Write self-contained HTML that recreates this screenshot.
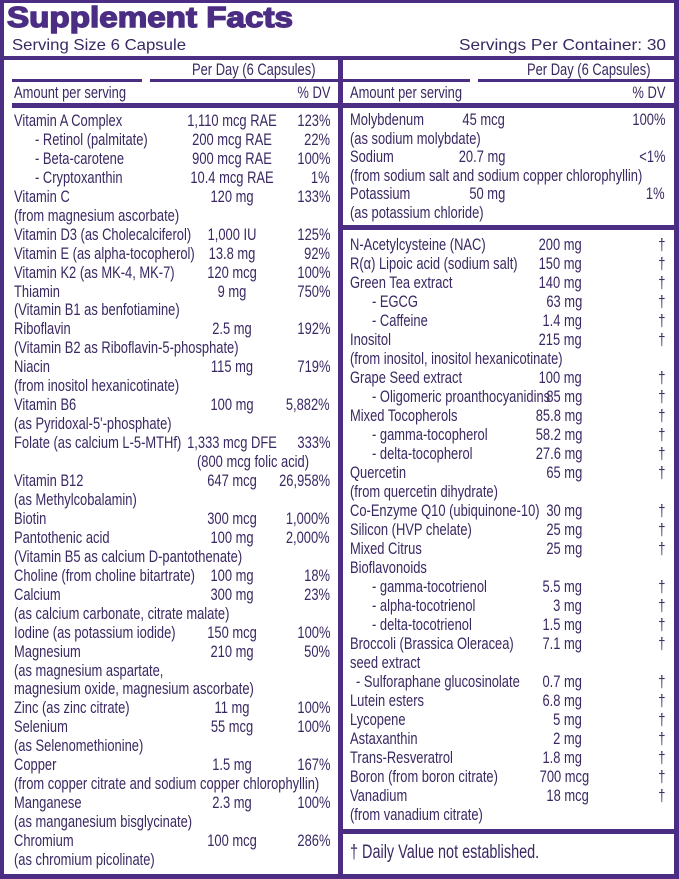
<!DOCTYPE html>
<html><head><meta charset="utf-8"><style>
*{margin:0;padding:0;box-sizing:border-box}
body{width:679px;height:879px;background:#fff;position:relative;overflow:hidden;font-family:"Liberation Sans",sans-serif;color:#3a2862}
.b{position:absolute;background:#4b2d83}
.r{position:absolute;height:20px;line-height:20px;font-size:17px;white-space:nowrap}
.r span{position:absolute;top:0;display:block}
.n{transform:scaleX(.76);transform-origin:left center}
.a{width:160px;text-align:center;transform:scaleX(.76);transform-origin:center}
.ar{text-align:right;transform:scaleX(.76);transform-origin:right center}
.d{text-align:right;transform:scaleX(.76);transform-origin:right center}
.L{left:0;width:340px}
.R{left:0;width:679px}
.L .n{left:14px}.L .a{left:152px}.L .d{right:10px}
.R .n{left:350px}.R .d{right:14px}
.s .n{left:35px!important}
.R.s .n{left:372px!important}
.u .ar{right:174px}
.w .ar{right:97px}
</style></head><body>
<div class="b" style="left:0;top:0;width:679px;height:3px"></div>
<div class="b" style="left:0;top:0;width:4px;height:879px"></div>
<div class="b" style="left:674px;top:0;width:5px;height:879px"></div>
<div class="b" style="left:0;top:874px;width:679px;height:5px"></div>
<div class="b" style="left:4px;top:56px;width:670px;height:4px"></div>
<div class="b" style="left:338px;top:56px;width:5px;height:820px"></div>
<div class="b" style="left:12px;top:79px;width:130px;height:3px"></div>
<div class="b" style="left:150px;top:79px;width:188px;height:3px"></div>
<div class="b" style="left:343px;top:79px;width:127px;height:3px"></div>
<div class="b" style="left:478px;top:79px;width:196px;height:3px"></div>
<div class="b" style="left:12px;top:103px;width:326px;height:5px"></div>
<div class="b" style="left:343px;top:103px;width:331px;height:5px"></div>
<div class="b" style="left:343px;top:225px;width:331px;height:5px"></div>
<div class="b" style="left:343px;top:829px;width:331px;height:5px"></div>

<svg style="position:absolute;left:0;top:0" width="679" height="60">
<text x="7" y="27" font-family="Liberation Sans" font-weight="bold" font-size="29" fill="#4b2d83" textLength="286" lengthAdjust="spacingAndGlyphs" stroke="#4b2d83" stroke-width="1.4">Supplement Facts</text>
<text x="12" y="50" font-family="Liberation Sans" font-size="16" fill="#3a2862" textLength="174" lengthAdjust="spacingAndGlyphs">Serving Size 6 Capsule</text>
<text x="666" y="50" text-anchor="end" font-family="Liberation Sans" font-size="16" fill="#3a2862" textLength="207" lengthAdjust="spacingAndGlyphs">Servings Per Container: 30</text>
</svg>

<div class="r L" style="top:60px"><span class="n" style="left:192px">Per Day (6 Capsules)</span></div>
<div class="r L" style="top:83px"><span class="n">Amount per serving</span><span class="d">% DV</span></div>
<div class="r R" style="top:60px"><span class="n" style="left:527px">Per Day (6 Capsules)</span></div>
<div class="r R" style="top:83px"><span class="n">Amount per serving</span><span class="d">% DV</span></div>

<div class="r L" style="top:111px"><span class="n">Vitamin A Complex</span><span class="a">1,110 mcg RAE</span><span class="d">123%</span></div>
<div class="r L s" style="top:130px"><span class="n">- Retinol (palmitate)</span><span class="a">200 mcg RAE</span><span class="d">22%</span></div>
<div class="r L s" style="top:149px"><span class="n">- Beta-carotene</span><span class="a">900 mcg RAE</span><span class="d">100%</span></div>
<div class="r L s" style="top:168px"><span class="n">- Cryptoxanthin</span><span class="a">10.4 mcg RAE</span><span class="d">1%</span></div>
<div class="r L" style="top:187px"><span class="n">Vitamin C</span><span class="a">120 mg</span><span class="d">133%</span></div>
<div class="r L" style="top:206px"><span class="n">(from magnesium ascorbate)</span></div>
<div class="r L" style="top:225px"><span class="n">Vitamin D3 (as Cholecalciferol)</span><span class="a">1,000 IU</span><span class="d">125%</span></div>
<div class="r L" style="top:244px"><span class="n">Vitamin E (as alpha-tocopherol)</span><span class="a">13.8 mg</span><span class="d">92%</span></div>
<div class="r L" style="top:263px"><span class="n">Vitamin K2 (as MK-4, MK-7)</span><span class="a">120 mcg</span><span class="d">100%</span></div>
<div class="r L" style="top:282px"><span class="n">Thiamin</span><span class="a">9 mg</span><span class="d">750%</span></div>
<div class="r L" style="top:300px"><span class="n">(Vitamin B1 as benfotiamine)</span></div>
<div class="r L" style="top:319px"><span class="n">Riboflavin</span><span class="a">2.5 mg</span><span class="d">192%</span></div>
<div class="r L" style="top:338px"><span class="n">(Vitamin B2 as Riboflavin-5-phosphate)</span></div>
<div class="r L" style="top:357px"><span class="n">Niacin</span><span class="a">115 mg</span><span class="d">719%</span></div>
<div class="r L" style="top:376px"><span class="n">(from inositol hexanicotinate)</span></div>
<div class="r L" style="top:395px"><span class="n">Vitamin B6</span><span class="a">100 mg</span><span class="d">5,882%</span></div>
<div class="r L" style="top:414px"><span class="n">(as Pyridoxal-5'-phosphate)</span></div>
<div class="r L" style="top:433px"><span class="n">Folate (as calcium L-5-MTHf)</span><span class="a">1,333 mcg DFE</span><span class="d">333%</span></div>
<div class="r L" style="top:452px"><span class="n" style="left:197px">(800 mcg folic acid)</span></div>
<div class="r L" style="top:471px"><span class="n">Vitamin B12</span><span class="a">647 mcg</span><span class="d">26,958%</span></div>
<div class="r L" style="top:490px"><span class="n">(as Methylcobalamin)</span></div>
<div class="r L" style="top:509px"><span class="n">Biotin</span><span class="a">300 mcg</span><span class="d">1,000%</span></div>
<div class="r L" style="top:528px"><span class="n">Pantothenic acid</span><span class="a">100 mg</span><span class="d">2,000%</span></div>
<div class="r L" style="top:547px"><span class="n">(Vitamin B5 as calcium D-pantothenate)</span></div>
<div class="r L" style="top:566px"><span class="n">Choline (from choline bitartrate)</span><span class="a">100 mg</span><span class="d">18%</span></div>
<div class="r L" style="top:585px"><span class="n">Calcium</span><span class="a">300 mg</span><span class="d">23%</span></div>
<div class="r L" style="top:604px"><span class="n">(as calcium carbonate, citrate malate)</span></div>
<div class="r L" style="top:623px"><span class="n">Iodine (as potassium iodide)</span><span class="a">150 mcg</span><span class="d">100%</span></div>
<div class="r L" style="top:642px"><span class="n">Magnesium</span><span class="a">210 mg</span><span class="d">50%</span></div>
<div class="r L" style="top:661px"><span class="n">(as magnesium aspartate,</span></div>
<div class="r L" style="top:679px"><span class="n">magnesium oxide, magnesium ascorbate)</span></div>
<div class="r L" style="top:698px"><span class="n">Zinc (as zinc citrate)</span><span class="a">11 mg</span><span class="d">100%</span></div>
<div class="r L" style="top:717px"><span class="n">Selenium</span><span class="a">55 mcg</span><span class="d">100%</span></div>
<div class="r L" style="top:736px"><span class="n">(as Selenomethionine)</span></div>
<div class="r L" style="top:755px"><span class="n">Copper</span><span class="a">1.5 mg</span><span class="d">167%</span></div>
<div class="r L" style="top:774px"><span class="n">(from copper citrate and sodium copper chlorophyllin)</span></div>
<div class="r L" style="top:793px"><span class="n">Manganese</span><span class="a">2.3 mg</span><span class="d">100%</span></div>
<div class="r L" style="top:812px"><span class="n">(as manganesium bisglycinate)</span></div>
<div class="r L" style="top:831px"><span class="n">Chromium</span><span class="a">100 mcg</span><span class="d">286%</span></div>
<div class="r L" style="top:850px"><span class="n">(as chromium picolinate)</span></div>

<div class="r R u" style="top:110px"><span class="n">Molybdenum</span><span class="ar">45 mcg</span><span class="d">100%</span></div>
<div class="r R" style="top:129px"><span class="n">(as sodium molybdate)</span></div>
<div class="r R u" style="top:147px"><span class="n">Sodium</span><span class="ar">20.7 mg</span><span class="d">&lt;1%</span></div>
<div class="r R" style="top:166px"><span class="n">(from sodium salt and sodium copper chlorophyllin)</span></div>
<div class="r R u" style="top:184px"><span class="n">Potassium</span><span class="ar">50 mg</span><span class="d">1%</span></div>
<div class="r R" style="top:203px"><span class="n">(as potassium chloride)</span></div>

<div class="r R w" style="top:235px"><span class="n">N-Acetylcysteine (NAC)</span><span class="ar">200 mg</span><span class="d">†</span></div>
<div class="r R w" style="top:254px"><span class="n">R(α) Lipoic acid (sodium salt)</span><span class="ar">150 mg</span><span class="d">†</span></div>
<div class="r R w" style="top:273px"><span class="n">Green Tea extract</span><span class="ar">140 mg</span><span class="d">†</span></div>
<div class="r R w s" style="top:292px"><span class="n">- EGCG</span><span class="ar">63 mg</span><span class="d">†</span></div>
<div class="r R w s" style="top:311px"><span class="n">- Caffeine</span><span class="ar">1.4 mg</span><span class="d">†</span></div>
<div class="r R w" style="top:330px"><span class="n">Inositol</span><span class="ar">215 mg</span><span class="d">†</span></div>
<div class="r R" style="top:349px"><span class="n">(from inositol, inositol hexanicotinate)</span></div>
<div class="r R w" style="top:368px"><span class="n">Grape Seed extract</span><span class="ar">100 mg</span><span class="d">†</span></div>
<div class="r R w s" style="top:387px"><span class="n">- Oligomeric proanthocyanidins</span><span class="ar">85 mg</span><span class="d">†</span></div>
<div class="r R w" style="top:406px"><span class="n">Mixed Tocopherols</span><span class="ar">85.8 mg</span><span class="d">†</span></div>
<div class="r R w s" style="top:425px"><span class="n">- gamma-tocopherol</span><span class="ar">58.2 mg</span><span class="d">†</span></div>
<div class="r R w s" style="top:444px"><span class="n">- delta-tocopherol</span><span class="ar">27.6 mg</span><span class="d">†</span></div>
<div class="r R w" style="top:463px"><span class="n">Quercetin</span><span class="ar">65 mg</span><span class="d">†</span></div>
<div class="r R" style="top:482px"><span class="n">(from quercetin dihydrate)</span></div>
<div class="r R w" style="top:501px"><span class="n">Co-Enzyme Q10 (ubiquinone-10)</span><span class="ar">30 mg</span><span class="d">†</span></div>
<div class="r R w" style="top:520px"><span class="n">Silicon (HVP chelate)</span><span class="ar">25 mg</span><span class="d">†</span></div>
<div class="r R w" style="top:539px"><span class="n">Mixed Citrus</span><span class="ar">25 mg</span><span class="d">†</span></div>
<div class="r R" style="top:558px"><span class="n">Bioflavonoids</span></div>
<div class="r R w s" style="top:577px"><span class="n">- gamma-tocotrienol</span><span class="ar">5.5 mg</span><span class="d">†</span></div>
<div class="r R w s" style="top:596px"><span class="n">- alpha-tocotrienol</span><span class="ar">3 mg</span><span class="d">†</span></div>
<div class="r R w s" style="top:615px"><span class="n">- delta-tocotrienol</span><span class="ar">1.5 mg</span><span class="d">†</span></div>
<div class="r R w" style="top:634px"><span class="n">Broccoli (Brassica Oleracea)</span><span class="ar">7.1 mg</span><span class="d">†</span></div>
<div class="r R" style="top:653px"><span class="n">seed extract</span></div>
<div class="r R w" style="top:672px"><span class="n" style="left:356px">- Sulforaphane glucosinolate</span><span class="ar">0.7 mg</span><span class="d">†</span></div>
<div class="r R w" style="top:691px"><span class="n">Lutein esters</span><span class="ar">6.8 mg</span><span class="d">†</span></div>
<div class="r R w" style="top:710px"><span class="n">Lycopene</span><span class="ar">5 mg</span><span class="d">†</span></div>
<div class="r R w" style="top:729px"><span class="n">Astaxanthin</span><span class="ar">2 mg</span><span class="d">†</span></div>
<div class="r R w" style="top:748px"><span class="n">Trans-Resveratrol</span><span class="ar">1.8 mg</span><span class="d">†</span></div>
<div class="r R w" style="top:767px"><span class="n">Boron (from boron citrate)</span><span class="ar" style="right:90px">700 mcg</span><span class="d">†</span></div>
<div class="r R w" style="top:786px"><span class="n">Vanadium</span><span class="ar" style="right:90px">18 mcg</span><span class="d">†</span></div>
<div class="r R" style="top:805px"><span class="n">(from vanadium citrate)</span></div>

<div class="r R" style="top:842px;font-size:19px;height:22px;line-height:22px"><span class="n">† Daily Value not established.</span></div>
</body></html>
